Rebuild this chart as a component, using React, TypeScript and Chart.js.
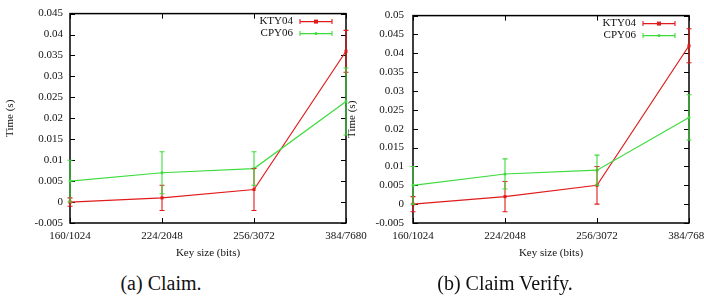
import React, { useEffect, useRef } from "react";
import { Chart, registerables } from "chart.js";
Chart.register(...registerables);

const keySizes = ["160/1024", "224/2048", "256/3072", "384/7680"];

const claimKTY04 = [0, 0.001, 0.003, 0.036];
const claimKTY04Err = [0.001, 0.003, 0.005, 0.005];
const claimCPY06 = [0.005, 0.007, 0.008, 0.024];
const claimCPY06Err = [0.005, 0.005, 0.004, 0.008];

const verifyKTY04 = [0, 0.002, 0.005, 0.042];
const verifyKTY04Err = [0.002, 0.004, 0.005, 0.0045];
const verifyCPY06 = [0.005, 0.008, 0.009, 0.023];
const verifyCPY06Err = [0.005, 0.004, 0.004, 0.006];

const claimYRange = [-0.005, 0.045];
const verifyYRange = [-0.005, 0.05];
const yStep = 0.005;

const seriesNames = ["KTY04", "CPY06"];
const RED = "#e01b1b";
const GREEN = "#3ddc3d";
const FONT = '"Liberation Serif", "Times New Roman", serif';

type PanelProps = {
  kty: number[];
  ktyErr: number[];
  cpy: number[];
  cpyErr: number[];
  yRange: number[];
  axisWidth: number;
  labelPad: number;
  width: number;
};

function Panel(props: PanelProps) {
  const ref = useRef<HTMLCanvasElement | null>(null);
  useEffect(() => {
    const canvas = ref.current;
    if (!canvas) return;
    const errs = [props.ktyErr, props.cpyErr];
    const vals = [props.kty, props.cpy];
    const colors = [RED, GREEN];

    const frame = {
      id: "frame",
      beforeDatasetsDraw(chart: any) {
        const { ctx, chartArea: a, scales } = chart;
        ctx.save();
        ctx.strokeStyle = "#000";
        ctx.lineWidth = 1;
        const y = scales.y;
        y.ticks.forEach((t: any) => {
          const py = Math.round(y.getPixelForValue(t.value)) + 0.5;
          ctx.beginPath();
          ctx.moveTo(a.left, py);
          ctx.lineTo(a.left + 5, py);
          ctx.moveTo(a.right - 5, py);
          ctx.lineTo(a.right, py);
          ctx.stroke();
        });
        const x = scales.x;
        x.ticks.forEach((_t: any, i: number) => {
          const px = Math.round(x.getPixelForTick(i)) + 0.5;
          ctx.beginPath();
          ctx.moveTo(px, a.bottom);
          ctx.lineTo(px, a.bottom - 5);
          ctx.moveTo(px, a.top);
          ctx.lineTo(px, a.top + 5);
          ctx.stroke();
        });
        ctx.lineWidth = 1.5;
        ctx.strokeRect(a.left, a.top, a.right - a.left, a.bottom - a.top);
        ctx.restore();
      },
      afterDatasetsDraw(chart: any) {
        const { ctx, scales } = chart;
        const y = scales.y;
        ctx.save();
        ctx.lineWidth = 1.1;
        [0, 1].forEach((d) => {
          const meta = chart.getDatasetMeta(d);
          ctx.strokeStyle = colors[d];
          meta.data.forEach((pt: any, j: number) => {
            const v = vals[d][j];
            const e = errs[d][j];
            const yt = y.getPixelForValue(v + e);
            const yb = y.getPixelForValue(v - e);
            ctx.beginPath();
            ctx.moveTo(pt.x, yt);
            ctx.lineTo(pt.x, yb);
            ctx.moveTo(pt.x - 2.5, yt);
            ctx.lineTo(pt.x + 2.5, yt);
            ctx.moveTo(pt.x - 2.5, yb);
            ctx.lineTo(pt.x + 2.5, yb);
            ctx.stroke();
          });
        });
        ctx.restore();
      },
      afterDraw(chart: any) {
        const { ctx, chartArea: a } = chart;
        ctx.save();
        ctx.font = "11px " + FONT;
        ctx.textAlign = "right";
        ctx.textBaseline = "middle";
        seriesNames.forEach((name, i) => {
          const ry = a.top + 8 + i * 12;
          ctx.fillStyle = "#111";
          ctx.fillText(name, a.right - 53, ry);
          const x0 = a.right - 46;
          const x1 = a.right - 14;
          ctx.strokeStyle = colors[i];
          ctx.lineWidth = 1.1;
          ctx.beginPath();
          ctx.moveTo(x0, ry);
          ctx.lineTo(x1, ry);
          ctx.moveTo(x0, ry - 2.5);
          ctx.lineTo(x0, ry + 2.5);
          ctx.moveTo(x1, ry - 2.5);
          ctx.lineTo(x1, ry + 2.5);
          ctx.stroke();
          ctx.fillStyle = colors[i];
          const xm = (x0 + x1) / 2;
          if (i === 0) ctx.fillRect(xm - 2, ry - 2, 4, 4);
          else {
            ctx.beginPath();
            ctx.arc(xm, ry, 1.5, 0, Math.PI * 2);
            ctx.fill();
          }
        });
        ctx.restore();
      },
    };

    const chart = new Chart(canvas, {
      type: "line",
      data: {
        labels: keySizes,
        datasets: [
          {
            label: seriesNames[0],
            data: props.kty,
            borderColor: RED,
            backgroundColor: RED,
            borderWidth: 1.2,
            pointStyle: "rect",
            pointRadius: 2.2,
            pointBorderWidth: 0,
            tension: 0,
            clip: false as any,
            order: 2,
          },
          {
            label: seriesNames[1],
            data: props.cpy,
            borderColor: GREEN,
            backgroundColor: GREEN,
            borderWidth: 1.2,
            pointStyle: "circle",
            pointRadius: 1.5,
            pointBorderWidth: 0,
            tension: 0,
            clip: false as any,
            order: 1,
          },
        ],
      },
      options: {
        animation: false,
        responsive: false,
        layout: { padding: { top: 9, right: 30, left: 0, bottom: 0 } },
        plugins: { legend: { display: false }, tooltip: { enabled: false } },
        scales: {
          x: {
            type: "category",
            offset: false,
            grid: { display: false, drawTicks: false },
            border: { display: false },
            ticks: {
              autoSkip: false,
              maxRotation: 0,
              padding: 7,
              color: "#111",
              font: { family: FONT, size: 11 },
            },
            title: {
              display: true,
              text: "Key size (bits)",
              color: "#111",
              font: { family: FONT, size: 11 },
              padding: { top: 0, bottom: 4 },
            },
            afterFit: (s: any) => {
              s.height = 41;
            },
          },
          y: {
            type: "linear",
            min: props.yRange[0],
            max: props.yRange[1],
            grid: { display: false, drawTicks: false },
            border: { display: false },
            ticks: {
              stepSize: yStep,
              padding: props.labelPad,
              color: "#111",
              font: { family: FONT, size: 11 },
              callback: (v: any) => String(+Number(v).toFixed(3)),
            },
            title: {
              display: true,
              text: "Time (s)",
              color: "#111",
              font: { family: FONT, size: 11 },
              padding: { top: 4, bottom: 4 },
            },
            afterFit: (s: any) => {
              s.width = props.axisWidth;
            },
          },
        },
      },
      plugins: [frame],
    });
    return () => chart.destroy();
  }, []);
  return (
    <canvas
      ref={ref}
      width={props.width}
      height={264}
      style={{ display: "block", width: props.width, height: 264 }}
    />
  );
}

export default function App() {
  return (
    <div
      style={{
        position: "fixed",
        left: 0,
        top: 0,
        width: 704,
        height: 296,
        overflow: "hidden",
        background: "#fff",
        fontFamily: FONT,
      }}
    >
      <div style={{ position: "absolute", left: 0, top: 0 }}>
        <Panel
          kty={claimKTY04}
          ktyErr={claimKTY04Err}
          cpy={claimCPY06}
          cpyErr={claimCPY06Err}
          yRange={claimYRange}
          axisWidth={70}
          labelPad={7}
          width={376}
        />
      </div>
      <div style={{ position: "absolute", left: 342, top: 0 }}>
        <Panel
          kty={verifyKTY04}
          ktyErr={verifyKTY04Err}
          cpy={verifyCPY06}
          cpyErr={verifyCPY06Err}
          yRange={verifyYRange}
          axisWidth={71}
          labelPad={9}
          width={377}
        />
      </div>
      <div
        style={{
          position: "absolute",
          left: 61,
          width: 200,
          top: 272,
          lineHeight: "22px",
          fontSize: 20,
          textAlign: "center",
          color: "#111",
        }}
      >
        (a) Claim.
      </div>
      <div
        style={{
          position: "absolute",
          left: 405,
          width: 200,
          top: 272,
          lineHeight: "22px",
          fontSize: 20,
          textAlign: "center",
          color: "#111",
        }}
      >
        (b) Claim Verify.
      </div>
    </div>
  );
}
